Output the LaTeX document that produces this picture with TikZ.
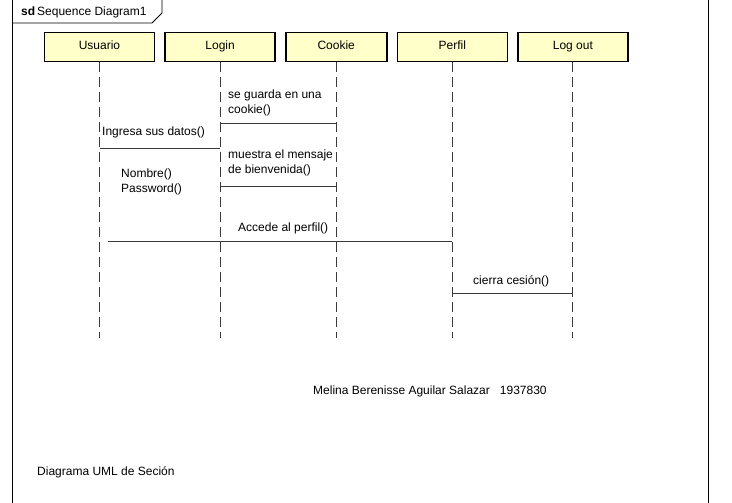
\documentclass[tikz,border=0pt]{standalone}
\usepackage{fontspec}
\setmainfont{Liberation Sans}
\usepackage{tikz}
\usetikzlibrary{positioning, calc}
\definecolor{headfill}{HTML}{FFFFCA}
\definecolor{lineink}{HTML}{3A3A3A}
\tikzset{
  head/.style={draw=black, fill=headfill, line width=1.6pt, minimum height=29pt,
    minimum width=110pt, inner sep=0pt, text height=9pt, text depth=3pt,
    font=\fontsize{12}{15}\selectfont},
  lifeline/.style={draw=lineink, line width=0.9pt, dash pattern=on 10pt off 5pt},
  msg/.style={draw=lineink, line width=1pt},
  lbl/.style={inner sep=0pt, align=left, font=\fontsize{12}{15}\selectfont},
  frameline/.style={draw=black, line width=0.9pt}
}
\begin{document}
\begin{tikzpicture}[x=1pt, y=-1pt, node distance=9pt]
\useasboundingbox (0,0) rectangle (732,503);
% frame and tab
\draw[frameline] (12,0) -- (12,503);
\draw[frameline] (708,0) -- (708,503);
\draw[frameline] (12,23) -- (152,23) -- (162,13) -- (162,0);
\node[lbl, anchor=west] (tab) at (21,12) {\textbf{sd}\,Sequence Diagram1};
% lifeline heads
\node[head] (usuario) at (99.5,47) {Usuario};
\node[head, right=of usuario] (login) {Login};
\node[head, right=of login, minimum width=101pt] (cookie) {Cookie};
\node[head, right=of cookie] (perfil) {Perfil};
\node[head, right=of perfil] (logout) {Log out};
% lifelines
\foreach \n in {usuario, login, cookie, perfil, logout} {
  \coordinate (\n-end) at (\n.south |- 0,338);
  \draw[lifeline] (\n.south) -- (\n-end);
}
% messages
\draw[msg] (login.south |- 0,124) -- (cookie.south |- 0,124);
\node[lbl, anchor=west] (guarda) at (228,103) {se guarda en una\\cookie()};
\draw[msg] (usuario.south |- 0,149) -- (login.south |- 0,149);
\node[lbl, anchor=west] (ingresa) at (102,132) {Ingresa sus datos()};
\draw[msg] (login.south |- 0,186) -- (cookie.south |- 0,186);
\node[lbl, anchor=west] (muestra) at (228,163) {muestra el mensaje\\de bienvenida()};
\node[lbl, anchor=west] (datos) at (121,182) {Nombre()\\Password()};
\draw[msg] ([xshift=8pt]usuario.south |- 0,241) -- (perfil.south |- 0,241);
\node[lbl, anchor=west] (accede) at (238,228) {Accede al perfil()};
\draw[msg] (perfil.south |- 0,293) -- (logout.south |- 0,293);
\node[lbl, anchor=west] (cierra) at (473,281) {cierra cesión()};
% notes
\node[lbl, anchor=west] (autor) at (313,391) {Melina Berenisse Aguilar Salazar\hspace{10pt}1937830};
\node[lbl, anchor=west] (titulo) at (37,472) {Diagrama UML de Seción};
\end{tikzpicture}
\end{document}
